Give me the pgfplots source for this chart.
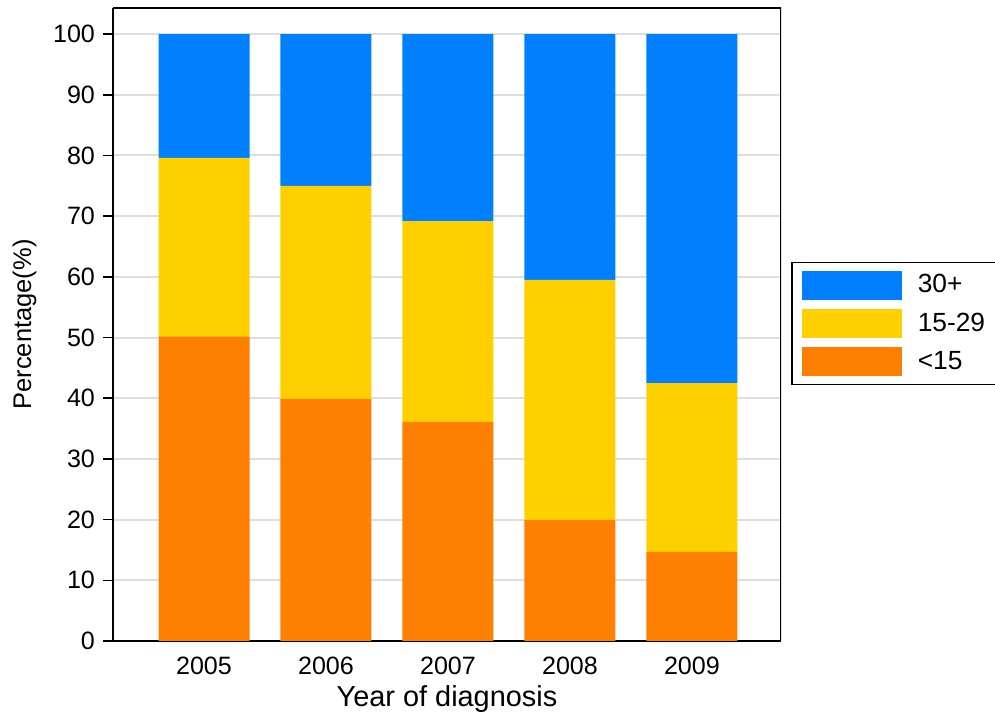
\documentclass[border=0pt]{standalone}
\usepackage{fontspec}
\setmainfont{Liberation Sans}
\usepackage{pgfplots}
\pgfplotsset{compat=1.18}

\definecolor{cblue}{HTML}{0080FF}
\definecolor{cyellow}{HTML}{FFD000}
\definecolor{corange}{HTML}{FF8000}

% share of cases by tumour size group (percent)
\pgfplotstableread{
x  lt15  mid  big
0  50.2  29.4 20.4
1  39.9  35.1 25.0
2  36.1  33.1 30.8
3  19.9  39.6 40.5
4  14.7  27.8 57.5
}\sizedata

\begin{document}
\begin{tikzpicture}[x=1bp,y=1bp]
\begin{axis}[
  scale only axis,
  width=334bp, height=316.5bp,
  ybar stacked, bar width=45.5bp,
  xmin=-0.746, xmax=4.73,
  ymin=0, ymax=104.3,
  xtick=data, xticklabels={2005,2006,2007,2008,2009},
  ytick={0,10,...,100},
  x tick style={draw=none},
  y tick style={black, line width=0.8bp},
  tick align=outside, major tick length=5bp,
  ymajorgrids, grid style={draw=black!13, line width=1bp},
  axis line style={line width=1bp},
  axis x line*=bottom, axis y line*=left,
  tick label style={font=\fontsize{12.6}{14}\selectfont},
  /pgf/number format/assume math mode=true,
  xticklabel style={yshift=0.5bp},
  yticklabel style={xshift=-0.5bp},
  xlabel={Year of diagnosis},
  ylabel={Percentage(\%)},
  xlabel style={font=\fontsize{14.5}{16}\selectfont, yshift=1.5bp},
  ylabel style={font=\fontsize{12.8}{14}\selectfont, yshift=1.5bp},
  legend style={at={(rel axis cs:1.015,0.599)}, anchor=north west,
    draw=black, line width=0.8bp, font=\fontsize{13.2}{15}\selectfont,
    inner xsep=5bp, inner ysep=4bp, row sep=4.5bp,
    cells={anchor=west}},
  legend image code/.code={\fill[#1] (0bp,-7.2bp) rectangle (50bp,7.2bp);
    \path (56bp,0bp);},
  reverse legend,
  every axis plot/.append style={draw=none},
]
\addplot[fill=corange] table[x=x,y=lt15] {\sizedata};
\addplot[fill=cyellow] table[x=x,y=mid] {\sizedata};
\addplot[fill=cblue] table[x=x,y=big] {\sizedata};
\legend{{<}15\hspace{20bp},15-29\hspace{20bp},30+\hspace{20bp}}
\draw[line width=1bp] (rel axis cs:0,1) -- (rel axis cs:1,1) -- (rel axis cs:1,0);
\end{axis}
\pgfresetboundingbox
\path (-56.5bp,-40.5bp) rectangle (441bp,320.5bp);
\end{tikzpicture}
\end{document}
